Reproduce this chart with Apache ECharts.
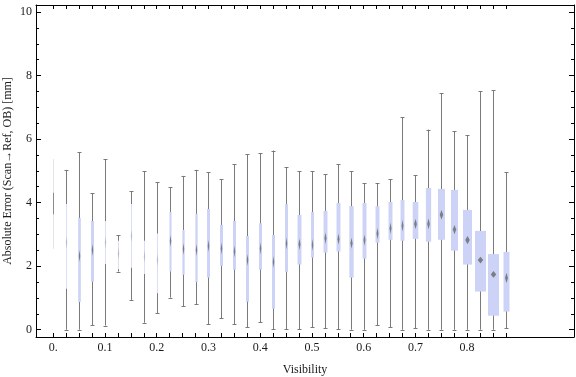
<!DOCTYPE html>
<html>
<head>
<meta charset="utf-8">
<script src="https://cdn.jsdelivr.net/npm/echarts@6/dist/echarts.min.js"></script>
<style>
  html, body { margin: 0; padding: 0; background: #fff; }
  #chart { width: 576px; height: 377px; }
</style>
</head>
<body>
<div id="chart"></div>
<script>
// box positions (visibility bins)
var visibility = [0, 0.025, 0.05, 0.075, 0.1, 0.125, 0.15, 0.175, 0.2, 0.225, 0.25, 0.275,
                  0.3, 0.325, 0.35, 0.375, 0.4, 0.425, 0.45, 0.475, 0.5, 0.525, 0.55, 0.575,
                  0.6, 0.625, 0.65, 0.675, 0.7, 0.725, 0.75, 0.775, 0.8, 0.825, 0.85, 0.875];
var whiskerLow  = [2.55, 0.00, 0.00, 0.14, 0.13, 1.83, 0.94, 0.22, 0.52, 1.01, 0.74, 0.80,
                   0.17, 0.36, 0.17, 0.08, 0.24, 0.02, 0.02, 0.02, 0.08, 0.05, 0.02, 0.00,
                   0.00, 0.14, 0.08, 0.00, 0.05, 0.00, 0.00, 0.00, 0.00, 0.00, 0.00, 0.05];
var q1          = [3.63, 1.29, 0.87, 1.51, 2.07, 1.90, 1.95, 1.75, 1.15, 1.83, 1.73, 1.50,
                   1.64, 2.01, 1.89, 0.88, 1.89, 0.66, 1.82, 2.05, 2.27, 2.43, 2.46, 1.64,
                   2.24, 2.74, 2.83, 2.80, 2.86, 2.77, 2.83, 2.49, 2.05, 1.20, 0.44, 0.57];
var median      = [3.95, 2.75, 2.32, 2.51, 2.75, 2.40, 2.95, 2.30, 2.20, 2.80, 2.54, 2.51,
                   2.64, 2.56, 2.46, 2.19, 2.56, 2.14, 2.72, 2.69, 2.67, 2.88, 2.85, 2.72,
                   2.82, 3.03, 3.19, 3.27, 3.33, 3.33, 3.62, 3.15, 2.82, 2.19, 1.74, 1.63];
var q3          = [4.31, 3.96, 3.52, 3.42, 3.42, 2.80, 3.96, 2.80, 3.03, 3.70, 3.14, 3.65,
                   3.80, 3.30, 3.42, 2.95, 3.35, 2.98, 3.95, 3.61, 3.70, 3.74, 3.99, 3.89,
                   3.99, 3.89, 4.02, 4.08, 4.02, 4.46, 4.43, 4.40, 3.77, 3.11, 2.38, 2.45];
var whiskerHigh = [5.37, 5.03, 5.58, 4.30, 5.37, 2.98, 4.36, 4.99, 4.65, 4.49, 4.84, 5.03,
                   4.96, 4.74, 5.21, 5.53, 5.56, 5.64, 5.11, 4.98, 4.98, 4.89, 5.20, 4.98,
                   4.61, 4.61, 4.73, 6.69, 4.86, 6.30, 7.44, 6.24, 6.12, 7.50, 7.53, 4.95];
// relative sample weight of each bin (drives box width)
var weight      = [0.04, 0.08, 0.22, 0.25, 0.08, 0.08, 0.08, 0.08, 0.08, 0.17, 0.19, 0.19,
                   0.25, 0.25, 0.25, 0.25, 0.25, 0.25, 0.25, 0.33, 0.25, 0.33, 0.33, 0.36,
                   0.33, 0.33, 0.33, 0.33, 0.47, 0.44, 0.58, 0.58, 0.75, 0.92, 0.92, 0.50];

var xLabelValues = [0, 0.1, 0.2, 0.3, 0.4, 0.5, 0.6, 0.7, 0.8];
var xLabels = ['0.', '0.1', '0.2', '0.3', '0.4', '0.5', '0.6', '0.7', '0.8'];
var yMajor = [0, 2, 4, 6, 8, 10];
var yMinor = [0.5, 1, 1.5, 2.5, 3, 3.5, 4.5, 5, 5.5, 6.5, 7, 7.5, 8.5, 9, 9.5];

var serif = '"Liberation Serif", "DejaVu Serif", serif';
var xMin = -0.0334, xMax = 1.0066, yMin = -0.23, yMax = 10.22;

function renderBox(params, api) {
  var x = api.value(0), wt = api.value(6);
  var pLo = api.coord([x, api.value(1)]);
  var pQ1 = api.coord([x, api.value(2)]);
  var pMed = api.coord([x, api.value(3)]);
  var pQ3 = api.coord([x, api.value(4)]);
  var pHi = api.coord([x, api.value(5)]);
  var cx = Math.round(pLo[0]) + 0.5;
  var w = Math.max(1, wt * 12);
  var sparse = wt < 0.05, thin = wt < 0.1;
  var whisker = sparse ? '#e4e4e4' : '#7a7a7a';
  var box = sparse ? '#8c8c8c' : (thin ? '#d9def9' : '#ccd3f6');
  var dw = Math.min(6, Math.max(1.5, w * 0.5));
  var dh = 14 - dw * 1.3;
  var children = [
    { type: 'line', shape: { x1: cx, y1: pLo[1], x2: cx, y2: pHi[1] }, style: { stroke: whisker, lineWidth: 1 } }
  ];
  if (!sparse) {
    children.push({ type: 'line', shape: { x1: cx - 2, y1: Math.round(pLo[1]) + 0.5, x2: cx + 2, y2: Math.round(pLo[1]) + 0.5 }, style: { stroke: whisker, lineWidth: 1 } });
    children.push({ type: 'line', shape: { x1: cx - 2, y1: Math.round(pHi[1]) + 0.5, x2: cx + 2, y2: Math.round(pHi[1]) + 0.5 }, style: { stroke: whisker, lineWidth: 1 } });
  }
  children.push({ type: 'rect', shape: { x: cx - w / 2, y: pQ3[1], width: w, height: pQ1[1] - pQ3[1] }, style: { fill: box } });
  if (!sparse) {
    children.push({
      type: 'polygon',
      shape: { points: [[cx, pMed[1] - dh / 2], [cx + dw / 2, pMed[1]], [cx, pMed[1] + dh / 2], [cx - dw / 2, pMed[1]]] },
      style: { fill: '#6e6e6e', opacity: thin ? 0.3 : 0.85 }
    });
  }
  return { type: 'group', children: children };
}

var chart = echarts.init(document.getElementById('chart'));
var frame = { show: true, onZero: false, lineStyle: { color: '#000', width: 1 } };
var noLine = { show: false, onZero: false };
function makeGrid() {
  return { left: 36, right: 2, top: 5, bottom: 40, containLabel: false, outerBoundsMode: 'none' };
}

var option = {
  animation: false,
  backgroundColor: '#fff',
  grid: [makeGrid(), makeGrid()],
  xAxis: [
    {
      type: 'value', gridIndex: 0, position: 'bottom', min: xMin, max: xMax,
      axisLine: frame,
      axisTick: { inside: true, length: 4, customValues: visibility, lineStyle: { color: '#000' } },
      axisLabel: {
        customValues: xLabelValues, margin: 5, fontFamily: serif, fontSize: 12, color: '#1a1a1a',
        formatter: function (v) {
          for (var i = 0; i < xLabelValues.length; i++) {
            if (Math.abs(xLabelValues[i] - v) < 1e-9) return xLabels[i];
          }
          return '';
        }
      },
      splitLine: { show: false },
      name: 'Visibility', nameLocation: 'middle', nameGap: 27, nameMoveOverlap: false,
      nameTextStyle: { fontFamily: serif, fontSize: 12, color: '#1a1a1a' }
    },
    {
      type: 'value', gridIndex: 0, position: 'top', min: xMin, max: xMax,
      axisLine: frame,
      axisTick: { inside: true, length: 4, customValues: visibility, lineStyle: { color: '#000' } },
      axisLabel: { show: false }, splitLine: { show: false }
    },
    {
      type: 'value', gridIndex: 1, min: xMin, max: xMax,
      axisLine: noLine, axisTick: { show: false }, axisLabel: { show: false }, splitLine: { show: false }
    }
  ],
  yAxis: [
    {
      type: 'value', gridIndex: 0, position: 'left', min: yMin, max: yMax,
      axisLine: frame,
      axisTick: { inside: true, length: 5, customValues: yMajor, lineStyle: { color: '#000' } },
      axisLabel: { customValues: yMajor, margin: 4, fontFamily: serif, fontSize: 12, color: '#1a1a1a' },
      splitLine: { show: false },
      name: 'Absolute Error (Scan\u2192Ref, OB) [mm]', nameLocation: 'middle', nameGap: 22, nameMoveOverlap: false,
      nameTextStyle: { fontFamily: serif, fontSize: 12, color: '#1a1a1a' }
    },
    {
      type: 'value', gridIndex: 0, position: 'right', min: yMin, max: yMax,
      axisLine: frame,
      axisTick: { inside: true, length: 5, customValues: yMajor, lineStyle: { color: '#000' } },
      axisLabel: { show: false }, splitLine: { show: false }
    },
    {
      type: 'value', gridIndex: 1, position: 'left', min: yMin, max: yMax,
      axisLine: noLine,
      axisTick: { inside: true, length: 3, customValues: yMinor, lineStyle: { color: '#000' } },
      axisLabel: { show: false }, splitLine: { show: false }
    },
    {
      type: 'value', gridIndex: 1, position: 'right', min: yMin, max: yMax,
      axisLine: noLine,
      axisTick: { inside: true, length: 3, customValues: yMinor, lineStyle: { color: '#000' } },
      axisLabel: { show: false }, splitLine: { show: false }
    }
  ],
  series: [{
    type: 'custom',
    xAxisIndex: 0, yAxisIndex: 0,
    renderItem: renderBox,
    encode: { x: 0, y: [1, 2, 3, 4, 5] },
    data: visibility.map(function (v, i) {
      return [v, whiskerLow[i], q1[i], median[i], q3[i], whiskerHigh[i], weight[i]];
    })
  }]
};
chart.setOption(option);
</script>
</body>
</html>
